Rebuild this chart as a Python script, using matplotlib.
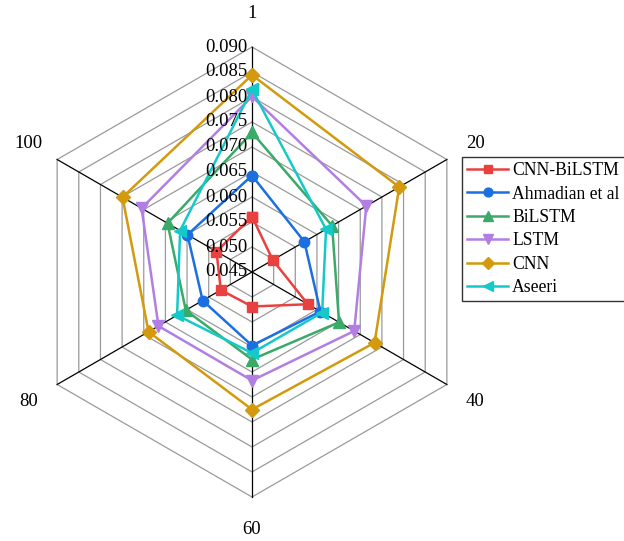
import numpy as np
import matplotlib
matplotlib.use("Agg")
import matplotlib.pyplot as plt

plt.rcParams['font.family'] = ['Liberation Serif', 'DejaVu Serif']

categories = ["1", "20", "40", "60", "80", "100"]
tick_values = [0.045, 0.050, 0.055, 0.060, 0.065, 0.070, 0.075, 0.080, 0.085, 0.090]

cnn_bilstm = [0.0561, 0.0498, 0.0579, 0.0519, 0.0522, 0.0532]
ahmadian = [0.0643, 0.0571, 0.0608, 0.0597, 0.0564, 0.0599]
bilstm = [0.0729, 0.0635, 0.0651, 0.0625, 0.0603, 0.0645]
lstm = [0.0801, 0.0714, 0.0686, 0.0667, 0.0666, 0.0705]
cnn = [0.0844, 0.0790, 0.0733, 0.0725, 0.0689, 0.0749]
aseeri = [0.0815, 0.0621, 0.0612, 0.0612, 0.0623, 0.0616]

series = [
    ("CNN-BiLSTM", cnn_bilstm, "#E8413F", "s"),
    ("Ahmadian et al", ahmadian, "#1C6FE0", "o"),
    ("BiLSTM", bilstm, "#3AAA68", "^"),
    ("LSTM", lstm, "#B27EE3", "v"),
    ("CNN", cnn, "#D29A0C", "D"),
    ("Aseeri", aseeri, "#16C9C9", "<"),
]

W, H = 624, 541
fig = plt.figure(figsize=(W / 100, H / 100), dpi=100)
cx, cy, R = 252, 272, 225
ax = fig.add_axes([(cx - R) / W, (H - cy - R) / H, 2 * R / W, 2 * R / H],
                  projection="polar")
ax.set_theta_zero_location("N")
ax.set_theta_direction(-1)
rmin, rmax = tick_values[0], tick_values[-1]
ax.set_ylim(rmin, rmax)
ax.grid(False)
ax.spines["polar"].set_visible(False)
ax.set_xticks([])
ax.set_yticks([])
ax.patch.set_visible(False)

n = len(categories)
angles = np.linspace(0, 2 * np.pi, n, endpoint=False)
closed = np.concatenate([angles, angles[:1]])

# hexagonal rings
for v in tick_values[1:]:
    ax.plot(closed, [v] * (n + 1), color="#9a9a9a", lw=0.9, zorder=1, clip_on=False)

# spokes
for a in angles:
    ax.plot([a, a], [rmin, rmax], color="black", lw=0.9, zorder=2, clip_on=False)

# radial tick labels along the top spoke
for v in tick_values:
    ax.annotate(f"{v:.3f}", xy=(0, v), xytext=(-3, 0), textcoords="offset points",
                ha="right", va="center", fontsize=13.5, zorder=6,
                annotation_clip=False)

# category labels
for a, lab in zip(angles, categories):
    ax.text(a, 0.0966, lab, ha="center", va="center", fontsize=13.5, clip_on=False)

for name, vals, col, mk in series:
    v = list(vals) + [vals[0]]
    ms = 8.5 if mk in ("^", "v", "<") else (6.8 if mk == "D" else 7.5)
    ax.plot(closed, v, color=col, lw=1.8, marker=mk, markersize=ms,
            label=name, zorder=4, clip_on=False)

leg = fig.legend(loc="upper left", bbox_to_anchor=(462 / W, 1 - 157 / H),
                 fontsize=12.7, frameon=True, fancybox=False, framealpha=1,
                 edgecolor="#333333", handlelength=2.3, handletextpad=0.25,
                 labelspacing=0.36, borderpad=0.3, borderaxespad=0,
                 markerscale=0.85)
leg.get_frame().set_linewidth(1.0)

fig.savefig("out.png", dpi=100)
